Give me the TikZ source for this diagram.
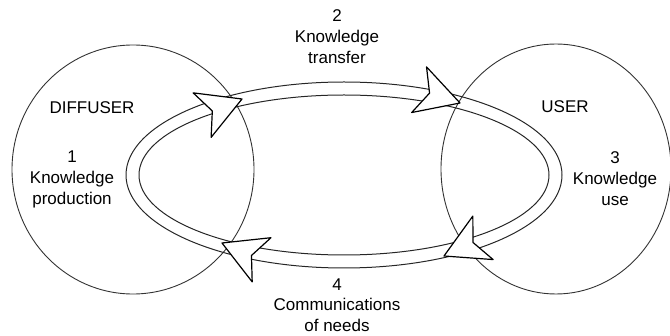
\documentclass[tikz,border=0pt]{standalone}
\usepackage{fontspec}
\setmainfont{Liberation Sans}
\usetikzlibrary{shapes.geometric}
\tikzset{
  party/.style={draw=black!80, line width=0.9pt, ellipse, inner sep=0pt},
  band/.style={draw=black!85, line width=1pt},
  label/.style={align=center, font=\fontsize{17}{21}\selectfont, inner sep=0pt},
  headshape/.style={draw=black, line width=1.2pt, fill=white, line join=round}
}
\begin{document}
\begin{tikzpicture}[x=1pt, y=-1pt]
\useasboundingbox (0,0) rectangle (670,336);
% the two parties
\node[party, minimum width=242pt, minimum height=249pt] (diff) at (133,169.5) {};
\node[party, minimum width=230pt, minimum height=250pt] (user) at (556,169) {};
% the loop (double band)
\coordinate (loopc) at (344,175);
\draw[band] (loopc) ellipse [x radius=218, y radius=93];
\draw[band] (loopc) ellipse [x radius=205, y radius=80];
% open arrowheads on the loop
\coordinate (ul) at (242,99);
\coordinate (ur) at (460,103);
\coordinate (lr) at (444,256);
\coordinate (ll) at (222,243);
\foreach \p/\a in {ul/22, ur/-18, lr/205, ll/157}{
  \draw[headshape, shift={(\p)}, rotate=\a]
    (0,0) -- (-43,24) -- (-32,0) -- (-43,-24) -- cycle;
}
% texts
\node[label] (t2) at (337,37) {2\\Knowledge\\transfer};
\node[label] (tdiff) at (92,108) {DIFFUSER};
\node[label] (t1) at (72,179) {1\\Knowledge\\production};
\node[label] (tuser) at (565,107) {USER};
\node[label] (t3) at (615,179) {3\\Knowledge\\use};
\node[label, font=\fontsize{17}{20.5}\selectfont] (t4) at (337,305) {4\\Communications\\of needs};
\end{tikzpicture}
\end{document}
